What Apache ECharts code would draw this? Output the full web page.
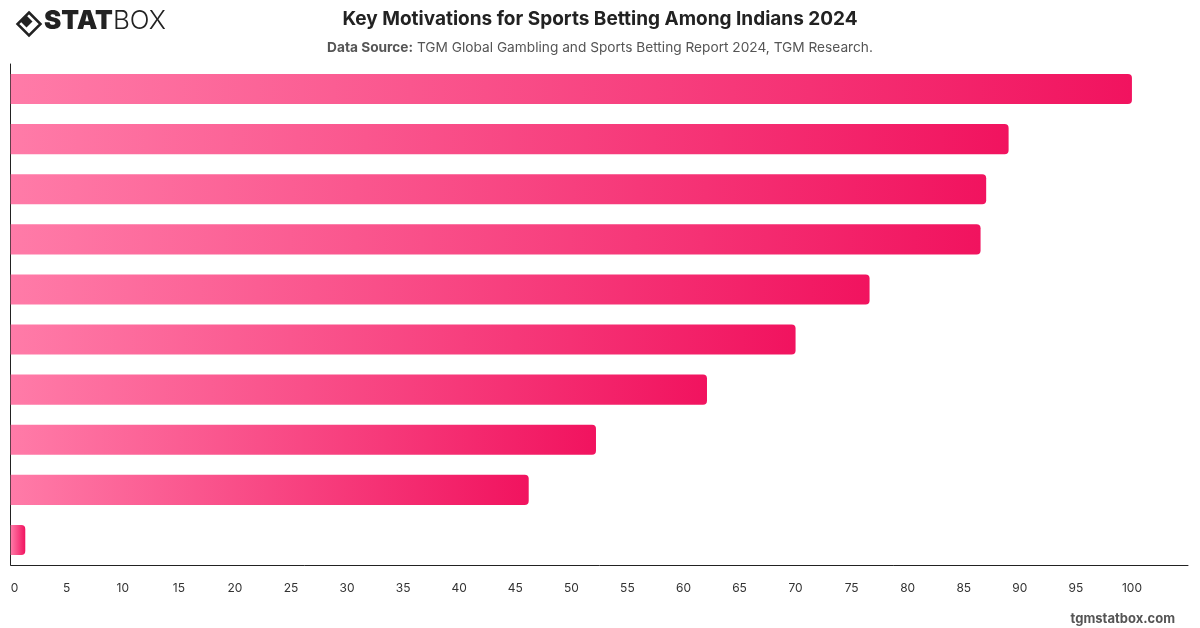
<!DOCTYPE html>
<html>
<head>
<meta charset="utf-8">
<title>Key Motivations for Sports Betting Among Indians 2024</title>
<script src="https://cdn.jsdelivr.net/npm/echarts@6/dist/echarts.min.js"></script>
<style>
  html, body { margin: 0; padding: 0; background: #fff; }
  #chart { width: 1200px; height: 628px; }
</style>
</head>
<body>
<div id="chart"></div>
<script>
// category labels are hidden in the source picture
const motivations = [
  'Motivation 1', 'Motivation 2', 'Motivation 3', 'Motivation 4', 'Motivation 5',
  'Motivation 6', 'Motivation 7', 'Motivation 8', 'Motivation 9', 'Motivation 10'
];
const shares = [100, 89, 87, 86.5, 76.6, 70, 62.1, 52.2, 46.2, 1.3];

const chart = echarts.init(document.getElementById('chart'));

const barFill = new echarts.graphic.LinearGradient(0, 0, 1, 0, [
  { offset: 0, color: '#ff7ba8' },
  { offset: 1, color: '#f1135f' }
]);

chart.setOption({
  animation: false,
  textStyle: { fontFamily: 'Inter, "Noto Sans", sans-serif' },
  title: [
    {
      text: 'Key Motivations for Sports Betting Among Indians 2024',
      left: 'center',
      top: 5,
      textStyle: { fontSize: 19, fontWeight: 'bold', color: '#222' }
    },
    {
      text: '{b|Data Source:} TGM Global Gambling and Sports Betting Report 2024, TGM Research.',
      left: 'center',
      top: 36,
      textStyle: {
        fontSize: 13.7, fontWeight: 'normal', color: '#555',
        rich: { b: { fontSize: 13.7, fontWeight: 'bold', color: '#555' } }
      }
    },
    {
      text: 'tgmstatbox.com',
      right: 20,
      top: 608,
      textStyle: { fontSize: 13, fontWeight: 'bold', color: '#555' }
    }
  ],
  graphic: [
    // logo mark
    {
      type: 'polygon', left: 15, top: 10,
      shape: { points: [[11.5, 0], [23, 11.5], [11.5, 23], [0, 11.5]] },
      style: { fill: 'none', stroke: '#222', lineWidth: 2.5 }
    },
    {
      type: 'polygon', left: 20.5, top: 15.5,
      shape: { points: [[6, 0], [12, 6], [6, 12], [0, 6]] },
      style: { fill: '#222' }
    },
    {
      type: 'text', left: 44, top: 8,
      style: {
        text: '{s|STAT}{b|BOX}',
        rich: {
          s: { fontSize: 26, fontWeight: 900, fill: '#222', fontFamily: 'Inter' },
          b: { fontSize: 26, fontWeight: 300, fill: '#222', fontFamily: 'Inter' }
        }
      }
    }
  ],
  grid: { left: 10.7, right: 12, top: 64, bottom: 63, containLabel: false },
  xAxis: {
    type: 'value',
    min: 0,
    max: 105,
    interval: 5,
    axisLine: { show: true, lineStyle: { color: '#222', width: 1 } },
    axisTick: { show: false },
    splitLine: { show: false },
    axisLabel: {
      color: '#333', fontSize: 12, margin: 17,
      showMaxLabel: false,
      alignMinLabel: 'left'
    }
  },
  yAxis: {
    type: 'category',
    data: motivations,
    inverse: true,
    axisLine: { show: true, lineStyle: { color: '#222', width: 1 } },
    axisTick: { show: false },
    axisLabel: { show: false }
  },
  series: [{
    type: 'bar',
    data: shares,
    barWidth: '60%',
    itemStyle: { color: barFill, borderRadius: [0, 4, 4, 0] }
  }]
});
</script>
</body>
</html>
